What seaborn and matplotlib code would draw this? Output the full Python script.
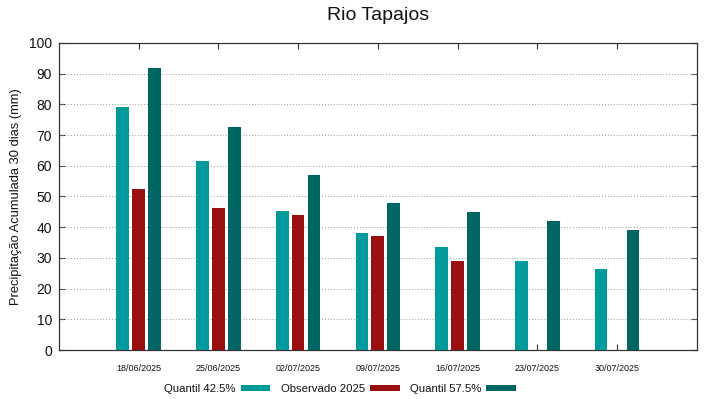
import matplotlib
matplotlib.use("Agg")
import matplotlib.pyplot as plt
import seaborn as sns
import pandas as pd
import numpy as np
from matplotlib.patches import Patch

dates = ["18/06/2025", "25/06/2025", "02/07/2025", "09/07/2025",
         "16/07/2025", "23/07/2025", "30/07/2025"]
q425 = [79.0, 61.5, 45.2, 38.2, 33.6, 28.9, 26.3]
obs = [52.6, 46.3, 44.0, 37.2, 29.1, np.nan, np.nan]
q575 = [91.7, 72.5, 57.1, 47.8, 45.0, 42.1, 39.0]
series_names = ["Quantil 42.5%", "Observado 2025", "Quantil 57.5%"]
colors = ["#009a9a", "#9a1010", "#006664"]

sns.set_theme(style="white")
plt.rcParams['font.family'] = ['Liberation Sans', 'DejaVu Sans']

fig = plt.figure(figsize=(7.19, 3.99), dpi=100)
ax = fig.add_axes([0.082, 0.1228, 0.887, 0.7695])

offsets = [-0.2, 0.0, 0.2]
width = 0.16
xpos = np.arange(1, len(dates) + 1)
for vals, off, col, name in zip([q425, obs, q575], offsets, colors, series_names):
    df = pd.DataFrame({"x": xpos + off, "y": vals}).dropna()
    ax.bar(df["x"], df["y"], width=width, color=col, edgecolor="none", zorder=3, label=name)

ax.set_xlim(0, 8)
ax.set_ylim(0, 100)
ax.set_yticks(np.arange(0, 101, 10))
ax.set_xticks(xpos)
ax.set_xticklabels(dates, fontsize=6.5)
ax.tick_params(axis="y", labelsize=10, direction="in", length=4, right=True, left=True,
               width=0.8, color="#333333", labelcolor="#111111", pad=5)
ax.tick_params(axis="x", direction="in", length=4, top=True, bottom=True, width=0.8,
               color="#333333", labelcolor="#111111", pad=10)
for yv in range(10, 100, 10):
    ax.axhline(yv, color="#999999", linestyle=(0, (1, 2)), linewidth=0.7, zorder=1)
for s in ax.spines.values():
    s.set_color("#333333")
    s.set_linewidth(0.9)
ax.set_ylabel("Precipitação Acumulada 30 dias (mm)", fontsize=9.3, labelpad=5, color="#111111")
fig.text(378 / 719, 1 - 16 / 399, "Rio Tapajos", fontsize=14, ha="center", va="center", color="#111111")

handles = [Patch(facecolor=c, edgecolor="none") for c in colors]
fig.legend(handles, series_names, loc="center", bbox_to_anchor=(0.473, 0.025),
           ncol=3, frameon=False, markerfirst=False, fontsize=8.2,
           handlelength=2.6, handleheight=0.5, handletextpad=0.45, columnspacing=0.9,
           labelcolor="#111111")

fig.savefig("out.png", dpi=100)
